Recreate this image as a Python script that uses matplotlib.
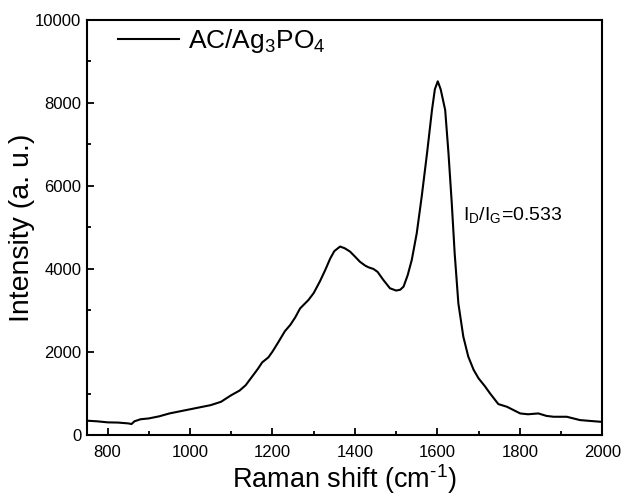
import matplotlib
matplotlib.use("Agg")
import matplotlib.pyplot as plt
from matplotlib.ticker import MultipleLocator
import numpy as np

plt.rcParams['font.family'] = ['Liberation Sans', 'DejaVu Sans']
plt.rcParams['mathtext.default'] = 'regular'

# Raman spectrum
shift = [750, 775, 800, 825, 850, 858, 865, 880, 900, 925, 950, 975, 1000,
         1025, 1050, 1075, 1100, 1120, 1135, 1150, 1165, 1175, 1190, 1200,
         1215, 1230, 1243, 1255, 1267, 1287, 1300, 1315, 1328, 1340, 1350,
         1364, 1375, 1388, 1400, 1412, 1425, 1433, 1445, 1455, 1469, 1485,
         1500, 1510, 1518, 1528, 1538, 1550, 1562, 1575, 1587, 1594, 1601,
         1608, 1619, 1627, 1635, 1642, 1651, 1663, 1675, 1688, 1700, 1715,
         1728, 1748, 1769, 1785, 1801, 1820, 1845, 1865, 1882, 1914, 1930,
         1946, 1970, 1995, 2000]
intensity = [345, 330, 305, 300, 280, 265, 330, 380, 400, 450, 520, 570, 620,
             670, 720, 800, 960, 1070, 1200, 1400, 1600, 1750, 1870, 2010,
             2250, 2500, 2650, 2830, 3050, 3250, 3420, 3700, 3975, 4250, 4430,
             4540, 4500, 4420, 4300, 4175, 4080, 4040, 4000, 3930, 3735, 3535,
             3480, 3500, 3575, 3850, 4220, 4860, 5740, 6790, 7830, 8330, 8520,
             8330, 7830, 6790, 5580, 4380, 3170, 2370, 1890, 1570, 1365, 1180,
             1000, 745, 680, 600, 520, 500, 520, 460, 440, 440, 400,
             360, 340, 320, 320]

series_label = "AC/Ag$_3$PO$_4$"
ratio_text = "I$_D$/I$_G$=0.533"

fig = plt.figure(figsize=(6.26, 4.97), dpi=100)
ax = fig.add_axes([0.139, 0.1247, 0.823, 0.8353])

ax.plot(shift, intensity, color='black', lw=1.5, label=series_label)

ax.set_xlim(750, 2000)
ax.set_ylim(0, 10000)
ax.xaxis.set_major_locator(MultipleLocator(200))
ax.xaxis.set_minor_locator(MultipleLocator(100))
ax.yaxis.set_major_locator(MultipleLocator(2000))
ax.yaxis.set_minor_locator(MultipleLocator(1000))
ax.tick_params(which='both', direction='in', width=1.3, labelsize=12)
ax.tick_params(which='major', length=5)
ax.tick_params(which='minor', length=3)
ax.tick_params(axis='x', pad=7)
ax.tick_params(axis='y', pad=4)
for s in ax.spines.values():
    s.set_linewidth(1.5)

ax.set_xlabel("Raman shift (cm$^{\u20101}$)", fontsize=19.5, labelpad=2)
ax.set_ylabel("Intensity (a. u.)", fontsize=20.5, labelpad=0)

ax.legend(loc='center left', bbox_to_anchor=(0.06, 0.949), frameon=False,
          fontsize=19, handlelength=2.3, handletextpad=0.35, borderpad=0,
          borderaxespad=0)
ax.text(1663, 5300, ratio_text, fontsize=14, va='center', ha='left')

fig.savefig("out.png", dpi=100)
